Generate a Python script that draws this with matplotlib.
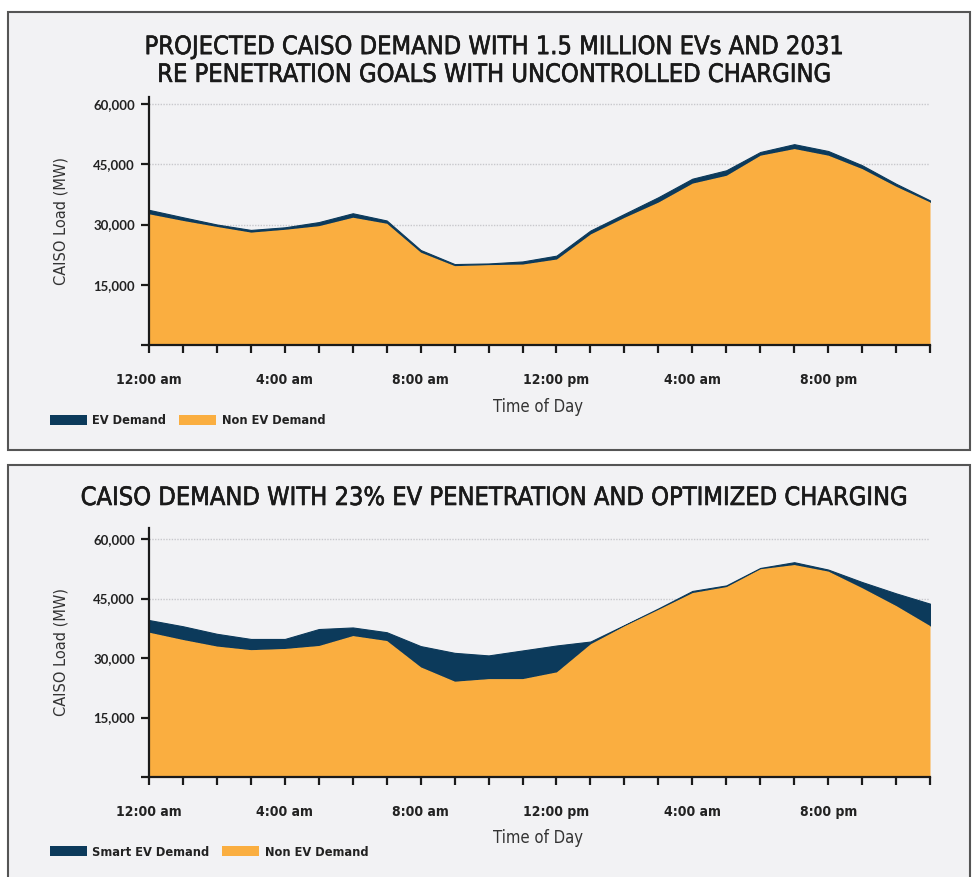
import matplotlib
matplotlib.use("Agg")
import matplotlib.pyplot as plt
from matplotlib.patches import Rectangle, Patch
from matplotlib import font_manager
import matplotlib.patheffects as pe

hours = list(range(24))
tick_labels = ["12:00 am", "", "", "", "4:00 am", "", "", "", "8:00 am", "", "", "",
               "12:00 pm", "", "", "", "4:00 am", "", "", "", "8:00 pm", "", "", ""]
yticks = [15000, 30000, 45000, 60000]

# Top chart: uncontrolled charging
top_non_ev = [32650, 31000, 29500, 28100, 28800, 29700, 31800, 30300, 23100, 19750, 20000, 20150,
              21400, 27650, 31800, 35600, 40300, 42250, 47250, 48900, 47250, 43900, 39500, 35600]
top_total = [33650, 31800, 30000, 28650, 29300, 30600, 32800, 31000, 23650, 20150, 20300, 20800,
             22250, 28500, 32650, 36800, 41400, 43500, 48050, 50000, 48300, 44750, 40150, 36000]

# Bottom chart: optimized charging
bot_non_ev = [36500, 34650, 33000, 32100, 32400, 33150, 35650, 34400, 27750, 24150, 24800, 24800,
              26500, 33600, 38150, 42300, 46500, 48000, 52500, 53550, 51900, 47700, 43200, 38150]
bot_total = [39570, 38000, 36100, 34800, 34800, 37300, 37700, 36500, 33000, 31300, 30650, 31900,
             33150, 34150, 38300, 42500, 46900, 48300, 52700, 54150, 52300, 49150, 46300, 43700]

title_top = "PROJECTED CAISO DEMAND WITH 1.5 MILLION EVs AND 2031\nRE PENETRATION GOALS WITH UNCONTROLLED CHARGING"
title_bot = "CAISO DEMAND WITH 23% EV PENETRATION AND OPTIMIZED CHARGING"
leg_top = ["EV Demand", "Non EV Demand"]
leg_bot = ["Smart EV Demand", "Non EV Demand"]

ORANGE = "#FAAE40"
NAVY = "#0C3A5B"
BG = "#F2F2F4"
TXT = "#222222"

avail = {f.name for f in font_manager.fontManager.ttflist}
NARROW = "Liberation Sans Narrow" if "Liberation Sans Narrow" in avail else "DejaVu Sans"
NUM = "Lato" if "Lato" in avail else "DejaVu Sans"
COND = dict(fontfamily=NARROW, fontstretch="condensed")

W, H = 973, 877
fig = plt.figure(figsize=(W / 100, H / 100), dpi=100)
fig.patch.set_facecolor("white")

def fx(px):
    return px / W

def fy(py):
    return 1 - py / H

# panel boxes
for (x0, y0, x1, y1) in [(8, 12, 970, 450), (8, 465, 970, 890)]:
    fig.patches.append(Rectangle((fx(x0), fy(y1)), fx(x1 - x0), (y1 - y0) / H,
                                 transform=fig.transFigure, facecolor=BG,
                                 edgecolor="#555555", linewidth=1.5, zorder=-5))

def make_panel(ytop_px, y0_px, y60_px, non_ev, total, title, tlines_y, tsize, leg_labels, xlab_y, leg_y):
    left, right = 149, 930
    ymax = 60000 + (y60_px - ytop_px) / (y0_px - y60_px) * 60000
    ax = fig.add_axes([fx(left), fy(y0_px), fx(right - left), (y0_px - ytop_px) / H])
    ax.set_facecolor("none")
    ax.set_zorder(2)
    ax.set_xlim(0, 23)
    ax.set_ylim(0, ymax)
    for g in yticks:
        ax.axhline(g, color="#C8C8CC", linestyle=(0, (1, 1)), linewidth=1.0, zorder=0)
    ax.fill_between(hours, non_ev, total, color=NAVY, linewidth=0.8, edgecolor=NAVY, zorder=2)
    ax.fill_between(hours, 0, non_ev, color=ORANGE, linewidth=0, zorder=3)
    for s in ["top", "right"]:
        ax.spines[s].set_visible(False)
    for s in ["left", "bottom"]:
        ax.spines[s].set_linewidth(1.6)
        ax.spines[s].set_color("#1a1a1a")
        ax.spines[s].set_zorder(5)
    ax.set_xticks(hours)
    ax.set_xticklabels(tick_labels, fontweight="bold", fontsize=10, color=TXT, **COND)
    ax.tick_params(axis="x", direction="out", length=6, width=1.6, pad=14, color="#1a1a1a")
    ax.set_yticks([0] + yticks)
    ax.set_yticklabels([""] + [f"{v:,}" for v in yticks], fontfamily=NUM, fontweight="bold",
                       fontsize=9.5, color=TXT)
    ax.tick_params(axis="y", direction="out", length=6, width=1.6, pad=4, color="#1a1a1a")
    ax.set_ylabel("CAISO Load (MW)", fontsize=10.5, color="#333333", labelpad=18,
                  fontfamily="DejaVu Sans")
    t = fig.text(fx(494), fy(tlines_y), title, ha="center", va="center",
                 fontsize=tsize, color="#1a1a1a", linespacing=1.2, **COND)
    t.set_path_effects([pe.withStroke(linewidth=0.45, foreground="#1a1a1a")])
    fig.text(fx(538), fy(xlab_y), "Time of Day", ha="center", va="center",
             fontsize=12, color="#333333", **COND)
    handles = [Patch(facecolor=NAVY, edgecolor="none"), Patch(facecolor=ORANGE, edgecolor="none")]
    leg = fig.legend(handles, leg_labels, loc="center left", bbox_to_anchor=(fx(38), fy(leg_y)),
                     ncol=2, frameon=False, handlelength=2.9, handleheight=0.75,
                     handletextpad=0.45, columnspacing=1.0,
                     prop={"family": NARROW, "weight": "bold", "size": 9.2, "stretch": "condensed"})
    for tx in leg.get_texts():
        tx.set_color(TXT)
    return ax

make_panel(97, 345, 104, top_non_ev, top_total, title_top, 61, 18.2, leg_top, 407, 421)
make_panel(528, 777, 539, bot_non_ev, bot_total, title_bot, 498, 18.2, leg_bot, 838, 852)

fig.savefig("out.png", dpi=100, facecolor="white")
